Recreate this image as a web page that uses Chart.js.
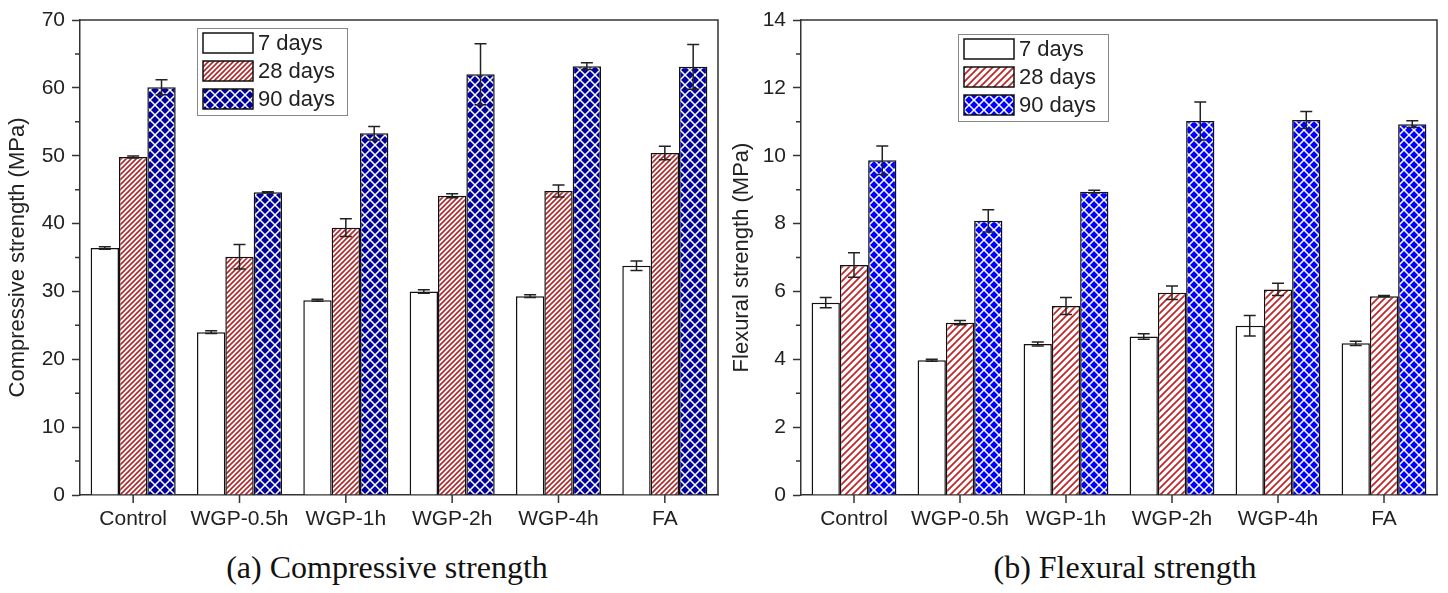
<!DOCTYPE html>
<html>
<head>
<meta charset="utf-8">
<script src="https://cdn.jsdelivr.net/npm/chart.js@4.4.0/dist/chart.umd.min.js"></script>
<style>
  body { margin: 0; background: #fff; width: 1448px; height: 593px; overflow: hidden; position: relative; }
  .box { position: absolute; top: 0; width: 724px; height: 540px; }
  .cap { position: absolute; top: 549px; width: 600px; text-align: center;
         font-family: "Liberation Serif", "Times New Roman", serif; font-size: 32px; color: #111; }
</style>
</head>
<body>
<div class="box" style="left:0"><canvas id="comp-chart" width="724" height="540"></canvas></div>
<div class="box" style="left:724px"><canvas id="flex-chart" width="724" height="540"></canvas></div>
<div class="cap" style="left:87px">(a) Compressive strength</div>
<div class="cap" style="left:825px">(b) Flexural strength</div>
<script>
// data
const mixes = ['Control', 'WGP-0.5h', 'WGP-1h', 'WGP-2h', 'WGP-4h', 'FA'];
const ages = ['7 days', '28 days', '90 days'];

const comp7 = [36.4, 24.0, 28.7, 30.0, 29.3, 33.8];
const comp28 = [49.8, 35.1, 39.4, 44.1, 44.8, 50.4];
const comp90 = [60.1, 44.6, 53.3, 62.0, 63.2, 63.1];
const comp7Err = [0.2, 0.2, 0.15, 0.25, 0.2, 0.7];
const comp28Err = [0.15, 1.8, 1.3, 0.3, 0.9, 1.0];
const comp90Err = [1.1, 0.1, 1.0, 4.5, 0.5, 3.3];

const flex7 = [5.67, 3.97, 4.45, 4.67, 4.99, 4.47];
const flex28 = [6.78, 5.08, 5.57, 5.96, 6.06, 5.86];
const flex90 = [9.87, 8.08, 8.94, 11.02, 11.05, 10.93];
const flex7Err = [0.15, 0.03, 0.06, 0.08, 0.3, 0.06];
const flex28Err = [0.36, 0.06, 0.25, 0.2, 0.18, 0.02];
const flex90Err = [0.42, 0.33, 0.04, 0.56, 0.25, 0.1];

const compTicks = [0, 10, 20, 30, 40, 50, 60, 70];
const flexTicks = [0, 2, 4, 6, 8, 10, 12, 14];

const FONT = '"Liberation Sans", Arial, sans-serif';
const INK = '#222';

function stripes(color, gap, lw) {
  const c = document.createElement('canvas');
  c.width = c.height = gap;
  const g = c.getContext('2d');
  g.fillStyle = '#fff';
  g.fillRect(0, 0, gap, gap);
  g.strokeStyle = color;
  g.lineWidth = lw;
  g.beginPath();
  g.moveTo(-gap, gap * 2); g.lineTo(gap * 2, -gap);
  g.moveTo(-gap, gap); g.lineTo(gap, -gap);
  g.moveTo(0, gap * 2); g.lineTo(gap * 2, 0);
  g.stroke();
  return g.createPattern(c, 'repeat');
}

function diamonds(bg, size, lw) {
  const c = document.createElement('canvas');
  c.width = c.height = size;
  const g = c.getContext('2d');
  g.fillStyle = bg;
  g.fillRect(0, 0, size, size);
  g.strokeStyle = '#fff';
  g.lineWidth = lw;
  g.beginPath();
  g.moveTo(-1, -1); g.lineTo(size + 1, size + 1);
  g.moveTo(size + 1, -1); g.lineTo(-1, size + 1);
  g.stroke();
  return g.createPattern(c, 'repeat');
}

// error bars, axis frame, ticks and legend box
const extras = {
  id: 'extras',
  afterDatasetsDraw(chart) {
    const ctx = chart.ctx;
    const y = chart.scales.y;
    ctx.save();
    ctx.strokeStyle = INK;
    ctx.lineWidth = 1.5;
    chart.data.datasets.forEach((ds, i) => {
      chart.getDatasetMeta(i).data.forEach((bar, j) => {
        const v = ds.data[j], e = ds.errors[j];
        const top = y.getPixelForValue(v + e), bot = y.getPixelForValue(v - e);
        ctx.beginPath();
        ctx.moveTo(bar.x, top); ctx.lineTo(bar.x, bot);
        ctx.moveTo(bar.x - 6, top); ctx.lineTo(bar.x + 6, top);
        ctx.moveTo(bar.x - 6, bot); ctx.lineTo(bar.x + 6, bot);
        ctx.stroke();
      });
    });
    ctx.restore();
  },
  afterDraw(chart, args, opts) {
    const ctx = chart.ctx;
    const a = chart.chartArea;
    const x = chart.scales.x;
    const y = chart.scales.y;
    ctx.save();
    ctx.strokeStyle = '#333';
    ctx.lineWidth = 1.5;
    ctx.beginPath();
    ctx.moveTo(a.left, a.top); ctx.lineTo(a.right, a.top); ctx.lineTo(a.right, a.bottom);
    // minor ticks halfway between labelled ones
    for (let k = 0; k < opts.ticks.length - 1; k++) {
      const py = y.getPixelForValue((opts.ticks[k] + opts.ticks[k + 1]) / 2);
      ctx.moveTo(a.left - 5, py); ctx.lineTo(a.left, py);
    }
    // category ticks under each group
    mixes.forEach((m, k) => {
      const px = x.getPixelForValue(k);
      ctx.moveTo(px, a.bottom); ctx.lineTo(px, a.bottom + 8);
    });
    ctx.stroke();

    // legend
    const lx = a.left + opts.legendX, ly = a.top + opts.legendY;
    ctx.fillStyle = '#fff';
    ctx.fillRect(lx, ly, 150, 87);
    ctx.strokeStyle = '#888';
    ctx.lineWidth = 1;
    ctx.strokeRect(lx + 0.5, ly + 0.5, 150, 87);
    ctx.font = '22px ' + FONT;
    ctx.textBaseline = 'middle';
    chart.data.datasets.forEach((ds, i) => {
      const sy = ly + 5 + i * 28;
      ctx.fillStyle = ds.backgroundColor;
      ctx.fillRect(lx + 6, sy, 50, 20);
      ctx.strokeStyle = '#111';
      ctx.lineWidth = 1.5;
      ctx.strokeRect(lx + 6, sy, 50, 20);
      ctx.fillStyle = INK;
      ctx.fillText(ds.label, lx + 61, sy + 11);
    });
    ctx.restore();
  }
};

function makeChart(id, series, errs, fills, ticks, title, yWidth, rightPad, legendX, legendY) {
  new Chart(document.getElementById(id).getContext('2d'), {
    type: 'bar',
    data: {
      labels: mixes,
      datasets: ages.map((age, i) => ({
        label: age,
        data: series[i],
        errors: errs[i],
        backgroundColor: fills[i],
        borderColor: '#111',
        borderWidth: 1.5,
        borderSkipped: 'bottom',
        categoryPercentage: 0.8,
        barPercentage: 1.0
      }))
    },
    options: {
      responsive: false,
      animation: false,
      layout: { padding: { top: 20, right: rightPad, left: 0, bottom: 0 } },
      plugins: {
        legend: { display: false },
        tooltip: { enabled: false },
        extras: { ticks: ticks, legendX: legendX, legendY: legendY }
      },
      scales: {
        x: {
          offset: true,
          afterFit: s => { s.height = 45; },
          grid: { drawOnChartArea: false, tickLength: 8, tickColor: 'rgba(0,0,0,0)' },
          border: { color: '#333', width: 1.5 },
          ticks: { font: { family: FONT, size: 21 }, color: INK, padding: 4, maxRotation: 0 }
        },
        y: {
          min: ticks[0],
          max: ticks[ticks.length - 1],
          afterFit: s => { s.width = yWidth; },
          afterBuildTicks: s => { s.ticks = ticks.map(v => ({ value: v })); },
          grid: { drawOnChartArea: false, tickLength: 8, tickColor: '#333', tickWidth: 1.5 },
          border: { color: '#333', width: 1.5 },
          ticks: { font: { family: FONT, size: 21 }, color: INK, padding: 7 },
          title: {
            display: true,
            text: title,
            font: { family: FONT, size: 22 },
            color: INK,
            padding: { top: 5, bottom: 0 }
          }
        }
      }
    },
    plugins: [extras]
  });
}

makeChart('comp-chart',
  [comp7, comp28, comp90],
  [comp7Err, comp28Err, comp90Err],
  ['#fff', stripes('#b0282a', 5, 1.6), diamonds('#00009a', 10, 1.5)],
  compTicks, 'Compressive strength (MPa)', 80, 6, 117, 8);

makeChart('flex-chart',
  [flex7, flex28, flex90],
  [flex7Err, flex28Err, flex90Err],
  ['#fff', stripes('#c0282a', 7, 1.8), diamonds('#0000ff', 10, 1.5)],
  flexTicks, 'Flexural strength (MPa)', 77, 11, 157, 14);
</script>
</body>
</html>
